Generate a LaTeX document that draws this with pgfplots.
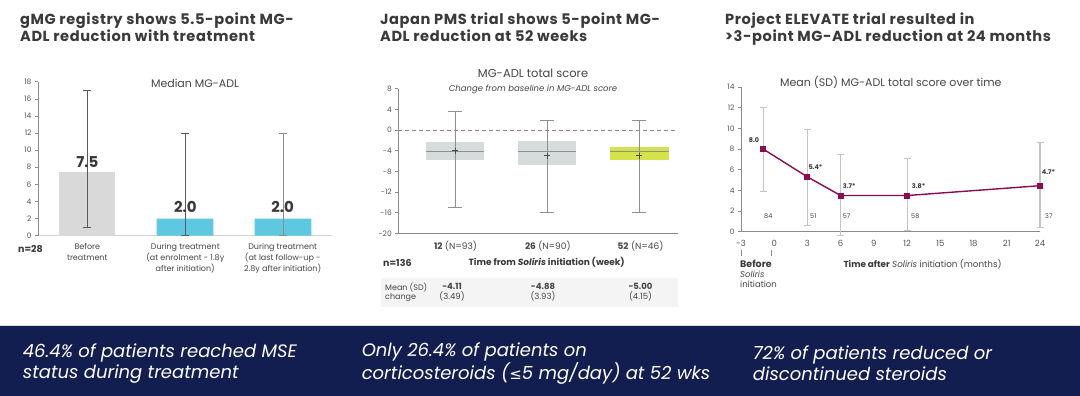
\documentclass[border=0pt]{standalone}
\usepackage{pgfplots}
\pgfplotsset{compat=1.18}
\usepgfplotslibrary{statistics}
\usepackage{fontspec}
\setmainfont{Poppins}
\newfontfamily\ttlfont[LetterSpace=4]{Poppins}
\newfontfamily\dejavu{DejaVu Sans}
\definecolor{titlegray}{HTML}{3A3A3A}
\definecolor{txt}{HTML}{454545}
\definecolor{ticktext}{HTML}{555555}
\definecolor{axgray}{HTML}{8A8A8A}
\definecolor{barsgray}{HTML}{D9D9D9}
\definecolor{barcyan}{HTML}{5EC8E0}
\definecolor{boxgray}{HTML}{D6DCDC}
\definecolor{lime}{HTML}{D4E34A}
\definecolor{wgray}{HTML}{8F8F8F}
\definecolor{meandark}{HTML}{4A4A4A}
\definecolor{maroon}{HTML}{8C0B52}
\definecolor{ebgray}{HTML}{C4C4C4}
\definecolor{navy}{HTML}{131E50}
\definecolor{tabbg}{HTML}{F4F4F4}
\pgfplotsset{
 panel/.style={scale only axis, clip=false,
   axis lines=left, axis line style={-, draw=axgray, line width=0.6pt},
   tick style={draw=axgray, line width=0.6pt}, tick align=outside, major tick length=3pt,
   tick label style={font=\fontsize{7.5}{9}\selectfont, text=ticktext},
   /pgf/number format/assume math mode=true}
}
\begin{document}
\begin{tikzpicture}[x=1pt,y=1pt]
\fill[white] (0,0) rectangle (1080,-396);
% titles
\node[anchor=base west, align=left, text=titlegray, inner sep=0pt, font=\ttlfont\bfseries\fontsize{14.6}{16.7}\selectfont] at (20,-41.7) {gMG registry shows 5.5-point MG-\\ADL reduction with treatment};
\node[anchor=base west, align=left, text=titlegray, inner sep=0pt, font=\ttlfont\bfseries\fontsize{14.6}{16.7}\selectfont] at (380,-41.7) {Japan PMS trial shows 5-point MG-\\ADL reduction at 52 weeks};
\node[anchor=base west, align=left, text=titlegray, inner sep=0pt, font=\ttlfont\bfseries\fontsize{14.6}{16.7}\selectfont] at (725,-41.7) {Project ELEVATE trial resulted in\\>3-point MG-ADL reduction at 24 months};

% ---------- Panel 1 ----------
\begin{scope}[shift={(38,-235.7)}]
\begin{axis}[panel, at={(0,0)}, anchor=south west, width=294pt, height=154pt,
 xmin=-0.5, xmax=2.5, ymin=0, ymax=18, ytick={0,2,...,18}, xtick=\empty,
 x axis line style={draw=black!18, line width=1.5pt}]
\addplot[ybar, bar shift=0pt, bar width=56.7pt, fill=barsgray, draw=none] coordinates {(0,7.5)};
\addplot[ybar, bar shift=0pt, bar width=56.7pt, fill=barcyan, draw=none] coordinates {(1,2) (2,2)};
\addplot[draw=none, mark=none, error bars/.cd, y dir=both, y explicit,
  error bar style={draw=black!65, line width=0.7pt},
  error mark options={rotate=90, draw=black!65, line width=0.7pt, mark size=4pt}]
  coordinates {(0,9) +- (0,8) (1,6) +- (0,6)};
\addplot[draw=none, mark=none, error bars/.cd, y dir=both, y explicit,
  error bar style={draw=black!45, line width=0.7pt},
  error mark options={rotate=90, draw=black!45, line width=0.7pt, mark size=4pt}]
  coordinates {(2,6) +- (0,6)};
\end{axis}
\end{scope}
\node[text=txt, font=\fontsize{11}{13}\selectfont] at (195,-83) {Median MG-ADL};
\node[text=titlegray, font=\bfseries\fontsize{15}{18}\selectfont] at (87.3,-162) {7.5};
\node[text=titlegray, font=\bfseries\fontsize{15}{18}\selectfont] at (185.3,-206.5) {2.0};
\node[text=titlegray, font=\bfseries\fontsize{15}{18}\selectfont] at (282.7,-206.5) {2.0};
\node[anchor=west, inner sep=0pt, text=titlegray, font=\bfseries\fontsize{9.5}{11}\selectfont] at (18,-249.5) {n=28};
\node[anchor=north, align=center, inner sep=0pt, text=txt, font=\fontsize{8}{11}\selectfont] at (87.3,-243) {Before\\treatment};
\node[anchor=north, align=center, inner sep=0pt, text=txt, font=\fontsize{8}{11}\selectfont] at (185.3,-243) {During treatment\\(at enrolment - 1.8y\\after initiation)};
\node[anchor=north, align=center, inner sep=0pt, text=txt, font=\fontsize{8}{11}\selectfont] at (282.7,-243) {During treatment\\(at last follow-up -\\2.8y after initiation)};

% ---------- Panel 2 ----------
\begin{scope}[shift={(398.3,-233.3)}]
\begin{axis}[panel, at={(0,0)}, anchor=south west, width=279.7pt, height=144.6pt,
 xmin=0.385, xmax=3.419, ymin=-20, ymax=8, ytick={-20,-16,...,8}, xtick=\empty,
 boxplot/draw direction=y,
 boxplot/every box/.style={draw=none},
 boxplot/every median/.style={draw=wgray, line width=1.1pt}]
\addplot[draw=axgray, line width=0.7pt, dash pattern=on 4pt off 3pt] coordinates {(0.385,0) (3.419,0)};
\addplot[boxplot prepared={draw position=1, lower whisker=-15, lower quartile=-5.9, median=-4.1, upper quartile=-2.3, upper whisker=3.5, box extend=0.634, whisker extend=0.15}, fill=boxgray, draw=wgray, line width=0.9pt] coordinates {};
\addplot[boxplot prepared={draw position=2, lower whisker=-16, lower quartile=-6.7, median=-4.1, upper quartile=-2.2, upper whisker=1.8, box extend=0.634, whisker extend=0.15}, fill=boxgray, draw=wgray, line width=0.9pt] coordinates {};
\addplot[boxplot prepared={draw position=3, lower whisker=-16, lower quartile=-5.9, median=-4.1, upper quartile=-3.3, upper whisker=1.8, box extend=0.634, whisker extend=0.15}, fill=lime, draw=wgray, line width=0.9pt] coordinates {};
\addplot[draw=wgray, line width=0.9pt] coordinates {(1,-5.9) (1,-2.3)};
\addplot[draw=wgray, line width=0.9pt] coordinates {(2,-6.7) (2,-2.2)};
\addplot[draw=wgray, line width=0.9pt] coordinates {(3,-5.9) (3,-3.3)};
\addplot[only marks, mark=+, mark size=3pt, draw=meandark, line width=0.9pt] coordinates {(1,-4) (2,-5) (3,-5)};
\end{axis}
\end{scope}
\node[text=txt, font=\fontsize{11.5}{13}\selectfont] at (533,-73) {MG-ADL total score};
\node[text=txt, font=\itshape\fontsize{8.5}{10}\selectfont] at (533,-89.5) {Change from baseline in MG-ADL score};
\node[text=txt, font=\fontsize{9}{11}\selectfont] at (455.5,-246.5) {\textbf{12} (N=93)};
\node[text=txt, font=\fontsize{9}{11}\selectfont] at (547.8,-246.5) {\textbf{26} (N=90)};
\node[text=txt, font=\fontsize{9}{11}\selectfont] at (640.5,-246.5) {\textbf{52} (N=46)};
\node[anchor=west, inner sep=0pt, text=titlegray, font=\bfseries\fontsize{9.5}{11}\selectfont] at (383,-263) {n=136};
\node[text=titlegray, font=\bfseries\fontsize{9}{11}\selectfont] at (546.7,-262) {Time from \textit{Soliris} initiation (week)};
\fill[tabbg] (381,-278) rectangle (678,-307.3);
\node[anchor=west, align=left, inner sep=0pt, text=txt, font=\fontsize{8}{9.5}\selectfont] at (385,-292.3) {Mean (SD)\\change};
\node[anchor=north, align=center, inner sep=0pt, text=txt, font=\fontsize{8.5}{10}\selectfont] at (452,-283) {\textbf{-4.11}\\(3.49)};
\node[anchor=north, align=center, inner sep=0pt, text=txt, font=\fontsize{8.5}{10}\selectfont] at (543,-283) {\textbf{-4.88}\\(3.93)};
\node[anchor=north, align=center, inner sep=0pt, text=txt, font=\fontsize{8.5}{10}\selectfont] at (640.5,-283) {\textbf{-5.00}\\(4.15)};

% ---------- Panel 3 ----------
\begin{scope}[shift={(741,-231.7)}]
\begin{axis}[panel, at={(0,0)}, anchor=south west, width=299pt, height=144.7pt,
 xmin=-3, xmax=24, ymin=0, ymax=14, ytick={0,2,...,14}, xtick={-3,0,...,24},
 x tick style={draw=none},
 xticklabel style={font=\fontsize{8.5}{10}\selectfont, text=ticktext, yshift=-2pt}]
\addplot[draw=none, mark=none, error bars/.cd, y dir=both, y explicit,
  error bar style={draw=ebgray, line width=1.1pt},
  error mark options={rotate=90, draw=ebgray, line width=1.1pt, mark size=3.5pt}]
  coordinates {(-1,7.95) +- (0,4.1) (3,5.25) +- (0,4.65) (6,3.55) +- (0,3.9) (12,3.6) +- (0,3.5) (24,4.5) +- (0,4.1)};
\addplot[draw=maroon, line width=1.4pt, mark=square*, mark size=2.3pt, mark options={fill=maroon}] coordinates {(-1,8) (3,5.3) (6,3.5) (12,3.5) (24,4.45)};
\end{axis}
\end{scope}
\node[text=txt, font=\fontsize{11}{13}\selectfont] at (890.8,-82) {Mean (SD) MG-ADL total score over time};
\node[text=titlegray, font=\bfseries\fontsize{6.5}{8}\selectfont] at (754,-140) {8.0};
\node[anchor=west, inner sep=0pt, text=titlegray, font=\bfseries\fontsize{6.5}{8}\selectfont] at (808.3,-166.7) {5.4*};
\node[anchor=west, inner sep=0pt, text=titlegray, font=\bfseries\fontsize{6.5}{8}\selectfont] at (842.7,-185.7) {3.7*};
\node[anchor=west, inner sep=0pt, text=titlegray, font=\bfseries\fontsize{6.5}{8}\selectfont] at (911.7,-185.7) {3.8*};
\node[anchor=west, inner sep=0pt, text=titlegray, font=\bfseries\fontsize{6.5}{8}\selectfont] at (1041.7,-171.7) {4.7*};
\node[anchor=west, inner sep=0pt, text=txt, font=\fontsize{6.5}{8}\selectfont] at (764,-216) {84};
\node[anchor=west, inner sep=0pt, text=txt, font=\fontsize{6.5}{8}\selectfont] at (810,-216) {51};
\node[anchor=west, inner sep=0pt, text=txt, font=\fontsize{6.5}{8}\selectfont] at (842.7,-216) {57};
\node[anchor=west, inner sep=0pt, text=txt, font=\fontsize{6.5}{8}\selectfont] at (911,-216) {58};
\node[anchor=west, inner sep=0pt, text=txt, font=\fontsize{6.5}{8}\selectfont] at (1045,-216) {37};
\draw[axgray, line width=0.6pt] (741.7,-250) -- (741.7,-255.5) (771,-250) -- (771,-255.5);
\node[anchor=west, inner sep=0pt, text=titlegray, font=\bfseries\fontsize{9.5}{11}\selectfont] at (740,-264) {Before};
\node[anchor=west, inner sep=0pt, text=txt, font=\itshape\fontsize{8.5}{10}\selectfont] at (740,-274.5) {Soliris};
\node[anchor=west, inner sep=0pt, text=txt, font=\fontsize{8.5}{10}\selectfont] at (740,-284.7) {initiation};
\node[anchor=west, inner sep=0pt, text=txt, font=\fontsize{8.8}{11}\selectfont] at (843.3,-264) {\textbf{\color{titlegray}Time after} \textit{Soliris} initiation (months)};

% ---------- Banner ----------
\draw[black!15, line width=1pt] (0,-325.5) -- (1080,-325.5);
\fill[navy] (0,-326) rectangle (1080,-396);
\node[anchor=west, align=left, inner sep=0pt, text=white, font=\itshape\fontsize{18}{21}\selectfont] at (22.7,-363.7) {46.4\% of patients reached MSE\\status during treatment};
\node[anchor=west, align=left, inner sep=0pt, text=white, font=\itshape\fontsize{18}{21}\selectfont] at (361.6,-363.7) {Only 26.4\% of patients on\\corticosteroids ({\dejavu\fontsize{15}{16}\selectfont ≤}5 mg/day) at 52 wks};
\node[anchor=west, align=left, inner sep=0pt, text=white, font=\itshape\fontsize{18}{21}\selectfont] at (752.7,-363.7) {72\% of patients reduced or\\discontinued steroids};
\pgfresetboundingbox
\path[use as bounding box] (0,0) rectangle (1080,-396);
\end{tikzpicture}
\end{document}
